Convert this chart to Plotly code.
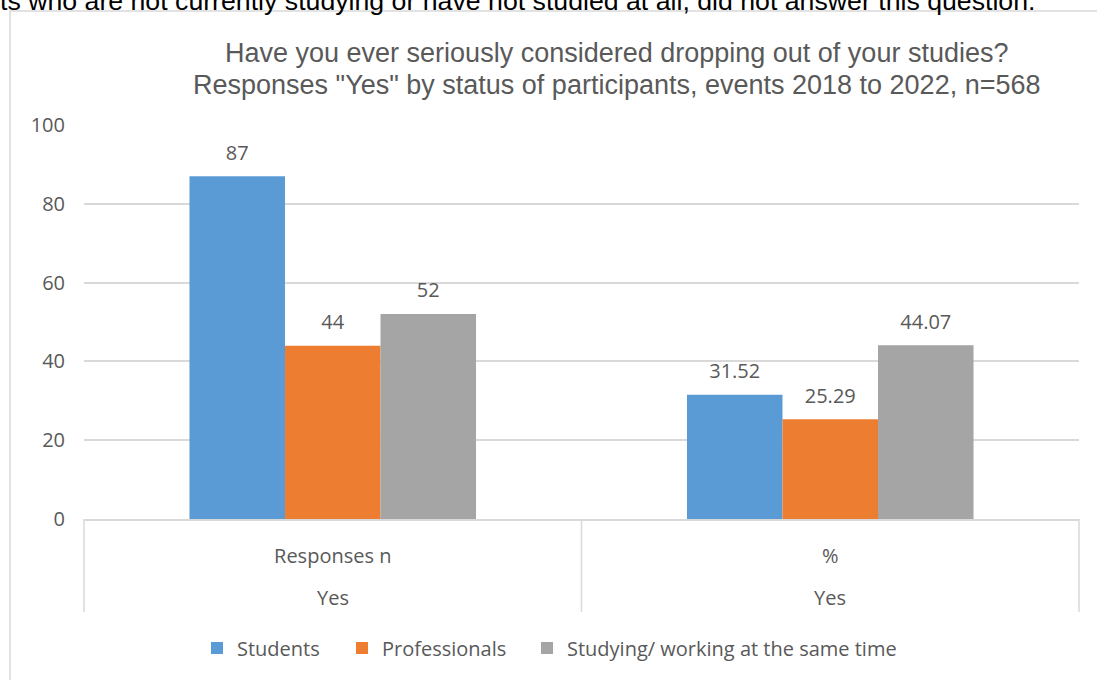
import plotly.graph_objects as go

categories = ["Responses n", "%"]
outer_labels = ["Yes", "Yes"]
series_names = ["Students", "Professionals", "Studying/ working at the same time"]
students = [87, 31.52]
professionals = [44, 25.29]
studying = [52, 44.07]
series_values = [students, professionals, studying]
colors = ["#5B9BD5", "#ED7D31", "#A5A5A5"]
y_ticks = [0, 20, 40, 60, 80, 100]
title_lines = ["Have you ever seriously considered dropping out of your studies?",
               "Responses \"Yes\" by status of participants, events 2018 to 2022, n=568"]
top_note = "ts who are not currently studying or have not studied at all, did not answer this question."

W, H = 1097, 680
# plot area in page pixels
PL, PR, PT, PB = 84, 1079, 125, 519
L, R, T, B = PL, W - PR, PT, H - PB
PW, PH = PR - PL, PB - PT

def px(x):
    return (x - PL) / PW

def py(y):
    return (PB - y) / PH

GREY = "#595959"
LABEL_FONT = "Open Sans"

fig = go.Figure()
legend_ids = ["legend", "legend2", "legend3"]
for name, vals, col, lg in zip(series_names, series_values, colors, legend_ids):
    fig.add_trace(go.Bar(
        x=categories, y=vals, name=name, marker=dict(color=col, line=dict(width=0)),
        legend=lg, hoverinfo="skip",
    ))
for name, vals in zip(series_names, series_values):
    fig.add_trace(go.Scatter(
        x=categories, y=vals, mode="markers+text", name=name,
        text=[f"{v:g}" for v in vals], textposition="top center",
        marker=dict(size=17, color="rgba(0,0,0,0)"),
        textfont=dict(family=LABEL_FONT, size=20, color=GREY),
        showlegend=False, cliponaxis=False, hoverinfo="skip",
    ))

ann = []
for i, lab in enumerate(outer_labels):
    ann.append(dict(x=categories[i], xref="x", y=py(597), yref="paper", text=lab,
                    showarrow=False, yanchor="middle",
                    font=dict(family=LABEL_FONT, size=20, color=GREY)))
ann.append(dict(x=px(616), xref="paper", y=py(52.5), yref="paper", text=title_lines[0],
                showarrow=False, yanchor="middle", xanchor="center",
                font=dict(family="Liberation Sans", size=27, color=GREY)))
ann.append(dict(x=px(616), xref="paper", y=py(84.5), yref="paper", text=title_lines[1],
                showarrow=False, yanchor="middle", xanchor="center",
                font=dict(family="Liberation Sans", size=27, color=GREY)))
ann.append(dict(x=px(-2), xref="paper", y=py(18), yref="paper", text=top_note,
                showarrow=False, yanchor="bottom", xanchor="left",
                font=dict(family="Liberation Sans", size=26.7, color="#000000")))

shapes = [dict(type="rect", xref="paper", yref="paper", x0=px(10), x1=px(1120),
               y0=py(700), y1=py(11), line=dict(color="#D9D9D9", width=1.5),
               fillcolor="rgba(0,0,0,0)", layer="below")]
for xd in [0, 0.5, 1]:
    shapes.append(dict(type="line", xref="x domain", yref="paper", x0=xd, x1=xd,
                       y0=0, y1=py(612), line=dict(color="#D9D9D9", width=1.5)))

legend_text_starts = [237, 382, 567]
layout_legends = {}
for lg, xs in zip(legend_ids, legend_text_starts):
    layout_legends[lg] = dict(x=px(xs - 40), xanchor="left", y=py(648), yanchor="middle",
                              orientation="h", bgcolor="rgba(0,0,0,0)",
                              font=dict(family=LABEL_FONT, size=20, color=GREY))

fig.update_layout(
    width=W, height=H, margin=dict(l=L, r=R, t=T, b=B, autoexpand=False),
    paper_bgcolor="white", plot_bgcolor="white",
    barmode="group", bargap=0.424, bargroupgap=0,
    scattermode="group", scattergap=0.424,
    showlegend=True, hovermode=False,
    xaxis=dict(type="category", showgrid=False, showline=True, linecolor="#D9D9D9",
               linewidth=1.5, ticks="outside", ticklen=18, tickcolor="rgba(0,0,0,0)",
               tickfont=dict(family=LABEL_FONT, size=20, color=GREY), range=[-0.5, 1.5]),
    yaxis=dict(range=[0, 100], tickvals=y_ticks, showgrid=True, gridcolor="#D9D9D9",
               gridwidth=1.5, zeroline=False, ticks="outside", ticklen=14,
               tickcolor="rgba(0,0,0,0)",
               tickfont=dict(family=LABEL_FONT, size=20, color=GREY)),
    annotations=ann, shapes=shapes,
    **layout_legends,
)

fig.write_html(
    "out.html",
    config={"displayModeBar": False},
    post_script="document.body.style.margin='0';document.body.style.overflow='hidden';",
)
